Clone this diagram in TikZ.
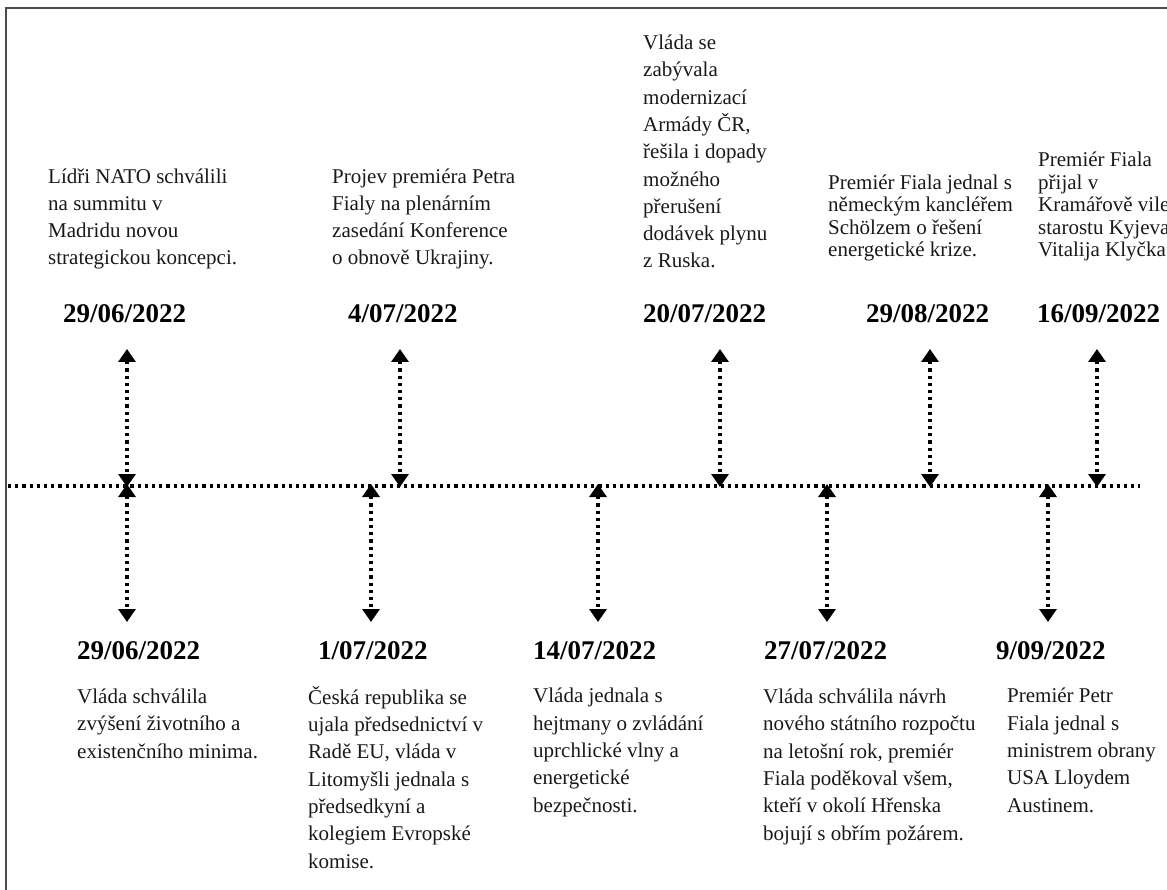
\documentclass[tikz,border=0pt]{standalone}
\usepackage{fontspec}
\setmainfont{Liberation Serif}
\usetikzlibrary{arrows.meta}

\begin{document}
\begin{tikzpicture}[x=1pt,y=-1pt,
  % multi-line nodes are placed by the baseline of their last line
  evtext/.style={font=\fontsize{21}{27.3}\selectfont, align=left, inner sep=0pt, anchor=base west, text=black!90},
  evtight/.style={evtext, font=\fontsize{21}{22.5}\selectfont},
  datelbl/.style={font=\fontsize{27}{27}\selectfont\bfseries, inner sep=0pt, anchor=base west},
  dotline/.style={line width=3.2pt, dash pattern=on 3.2pt off 4pt},
  tick/.style={dotline, {Triangle[width=17pt,length=13pt]}-{Triangle[width=17pt,length=13pt]}},
  frame/.style={draw=black!70, line width=1.2pt}
]
\useasboundingbox (0,0) rectangle (1167,890);

% page frame
\coordinate (fTL) at (6,8);
\coordinate (fTR) at (1167,8);
\coordinate (fBL) at (6,890);
\draw[frame] (fBL) -- (fTL) -- (fTR);

% main axis
\coordinate (axL) at (8,486);
\coordinate (axR) at (1140,486);
\draw[dotline] (axL) -- (axR);

% events above the axis
\node[evtext] (t1) at (48,265) {Lídři NATO schválili\\na summitu v\\Madridu novou\\strategickou koncepci.};
\node[datelbl] (d1) at (63,323) {29/06/2022};
\node[evtext] (t2) at (332,265) {Projev premiéra Petra\\Fialy na plenárním\\zasedání Konference\\o obnově Ukrajiny.};
\node[datelbl] (d2) at (348,323) {4/07/2022};
\node[evtext] (t3) at (643,268) {Vláda se\\zabývala\\modernizací\\Armády ČR,\\řešila i dopady\\možného\\přerušení\\dodávek plynu\\z Ruska.};
\node[datelbl] (d3) at (643,323) {20/07/2022};
\node[evtight] (t4) at (828,257) {Premiér Fiala jednal s\\německým kancléřem\\Schölzem o řešení\\energetické krize.};
\node[datelbl] (d4) at (866,323) {29/08/2022};
\node[evtight] (t5) at (1038,257) {Premiér Fiala\\přijal v\\Kramářově vile\\starostu Kyjeva\\Vitalija Klyčka};
\node[datelbl] (d5) at (1037,323) {16/09/2022};

% events below the axis
\node[datelbl] (d6) at (77,659) {29/06/2022};
\node[evtext] (t6) at (77,758) {Vláda schválila\\zvýšení životního a\\existenčního minima.};
\node[datelbl] (d7) at (318,659) {1/07/2022};
\node[evtext] (t7) at (308,868) {Česká republika se\\ujala předsednictví v\\Radě EU, vláda v\\Litomyšli jednala s\\předsedkyní a\\kolegiem Evropské\\komise.};
\node[datelbl] (d8) at (533,659) {14/07/2022};
\node[evtext] (t8) at (533,812) {Vláda jednala s\\hejtmany o zvládání\\uprchlické vlny a\\energetické\\bezpečnosti.};
\node[datelbl] (d9) at (764,659) {27/07/2022};
\node[evtext] (t9) at (763,840) {Vláda schválila návrh\\nového státního rozpočtu\\na letošní rok, premiér\\Fiala poděkoval všem,\\kteří v okolí Hřenska\\bojují s obřím požárem.};
\node[datelbl] (d10) at (996,659) {9/09/2022};
\node[evtext] (t10) at (1007,812) {Premiér Petr\\Fiala jednal s\\ministrem obrany\\USA Lloydem\\Austinem.};

% tick ends above the axis
\foreach \n/\x in {1/127,2/400,3/720,4/930,5/1097}{
  \coordinate (up\n) at (\x,349);
  \coordinate (ua\n) at (\x,487);
}
% tick ends below the axis
\foreach \n/\x in {6/127,7/371,8/598,9/827,10/1048}{
  \coordinate (la\n) at (\x,484);
  \coordinate (lo\n) at (\x,622);
}
\foreach \n in {1,...,5}{ \draw[tick] (up\n) -- (ua\n); }
\foreach \n in {6,...,10}{ \draw[tick] (la\n) -- (lo\n); }
\end{tikzpicture}
\end{document}
